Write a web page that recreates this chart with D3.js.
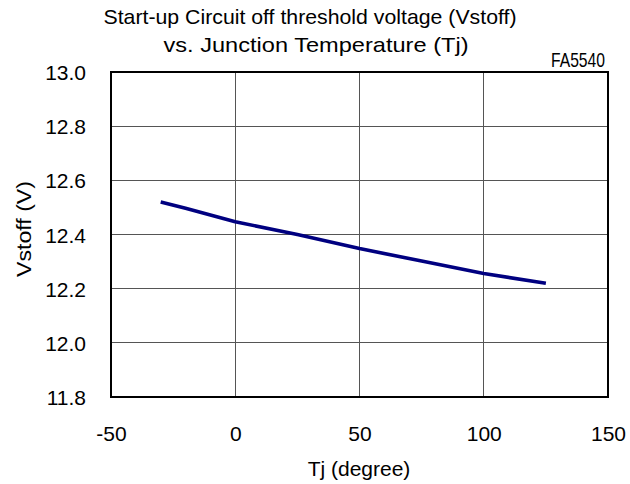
<!DOCTYPE html>
<html><head><meta charset="utf-8">
<script src="https://cdn.jsdelivr.net/npm/d3@7"></script>
<style>body{margin:0;background:#fff}svg{display:block}text{font-family:"Liberation Sans",Arial,sans-serif;fill:#000}</style>
</head><body><svg id="c" width="630" height="484"></svg>
<script>
const tj = [-30, -20, 0, 25, 50, 75, 100, 125];
const vstoff = [12.52, 12.497, 12.447, 12.40, 12.348, 12.302, 12.256, 12.22];
const xTicks = [-50, 0, 50, 100, 150];
const yTicks = [11.8, 12.0, 12.2, 12.4, 12.6, 12.8, 13.0];
const titleLines = ["Start-up Circuit off threshold voltage (Vstoff)", "vs. Junction Temperature (Tj)"];
const partLabel = "FA5540";
const xLabel = "Tj (degree)";
const yLabel = "Vstoff (V)";

const svg = d3.select("#c");
const L = 111, R = 608, T = 72, B = 397;
const x = d3.scaleLinear().domain([-50, 150]).range([L, R]);
const y = d3.scaleLinear().domain([11.8, 13.0]).range([B, T]);
const fs = 21;
const FONT = '"Liberation Sans",Arial,sans-serif';

// grid
svg.append("g").selectAll("line").data(xTicks.slice(1, -1)).join("line")
  .attr("x1", d => x(d)).attr("x2", d => x(d)).attr("y1", T).attr("y2", B)
  .attr("stroke", "#555").attr("stroke-width", 1).attr("shape-rendering", "crispEdges");
svg.append("g").selectAll("line").data(yTicks.slice(1, -1)).join("line")
  .attr("y1", d => y(d)).attr("y2", d => y(d)).attr("x1", L).attr("x2", R)
  .attr("stroke", "#555").attr("stroke-width", 1).attr("shape-rendering", "crispEdges");

// axes (labels only)
const xAxis = d3.axisBottom(x).tickValues(xTicks).tickSize(0).tickPadding(0).tickFormat(d => String(d));
const gx = svg.append("g").attr("transform", `translate(0,${B})`).call(xAxis);
gx.select(".domain").remove();
gx.selectAll("text").attr("font-size", fs).attr("dy", null).attr("y", 44).attr("x", 0).style("font-family", FONT);
const yAxis = d3.axisLeft(y).tickValues(yTicks).tickSize(0).tickPadding(0).tickFormat(d3.format(".1f"));
const gy = svg.append("g").attr("transform", `translate(${L},0)`).call(yAxis);
gy.select(".domain").remove();
gy.selectAll("text").attr("font-size", fs).attr("dy", null).attr("y", 7.5).attr("x", -25).style("font-family", FONT);

// frame
svg.append("rect").attr("x", L).attr("y", T).attr("width", R - L).attr("height", B - T)
  .attr("fill", "none").attr("stroke", "#000").attr("stroke-width", 2);

// line
svg.append("path").datum(tj.map((t, i) => [t, vstoff[i]]))
  .attr("d", d3.line().x(d => x(d[0])).y(d => y(d[1])))
  .attr("fill", "none").attr("stroke", "#000080").attr("stroke-width", 3.6)
  .attr("stroke-linejoin", "round");

function label(txt, px, py, len) {
  const t = svg.append("text").attr("x", px).attr("y", py)
    .attr("text-anchor", "middle").attr("font-size", fs).text(txt);
  if (len) t.attr("textLength", len).attr("lengthAdjust", "spacingAndGlyphs");
  return t;
}
label(titleLines[0], 310, 24, 413);
label(titleLines[1], 316, 52, 305);
label(partLabel, 578, 67, 54);
label(xLabel, 359, 476);
svg.append("text").attr("transform", "translate(31,229) rotate(-90)")
  .attr("text-anchor", "middle").attr("font-size", fs)
  .attr("textLength", 96).attr("lengthAdjust", "spacingAndGlyphs").text(yLabel);
</script></body></html>
